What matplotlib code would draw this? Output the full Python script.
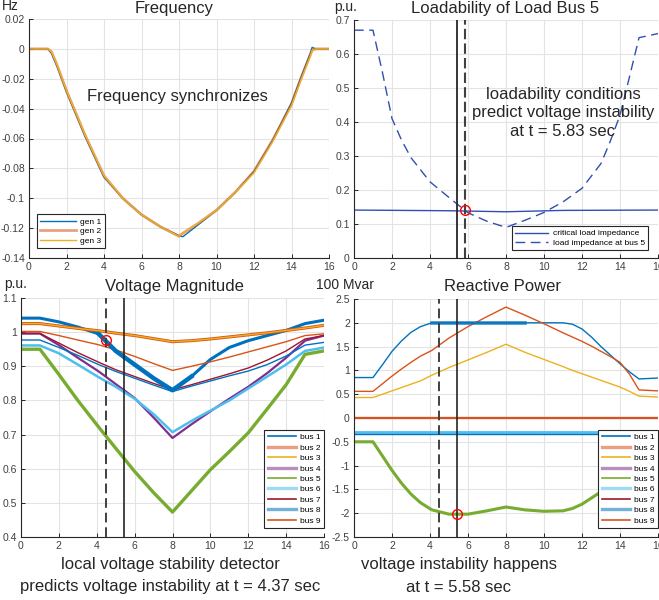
import numpy as np
import matplotlib
matplotlib.use("Agg")
import matplotlib.pyplot as plt
from matplotlib.lines import Line2D
from matplotlib.ticker import FuncFormatter, MultipleLocator

plt.rcParams['font.family'] = ['Liberation Sans', 'DejaVu Sans']
plt.rcParams['axes.unicode_minus'] = False

# ---------------- data ----------------
# Frequency (Hz)
t_freq = [0, 1, 1.2, 1.5, 2, 3, 4, 5, 6, 7, 8, 8.2, 9, 10, 11, 12, 13, 14, 14.5, 15, 15.1, 15.3, 16]
gen1 = [0, 0, -0.003, -0.012, -0.029, -0.059, -0.086, -0.100, -0.111, -0.119, -0.125, -0.1258, -0.118, -0.108,
        -0.096, -0.082, -0.061, -0.036, -0.019, -0.003, 0.001, 0, 0]
gen2 = [0, 0, -0.002, -0.011, -0.028, -0.058, -0.085, -0.100, -0.111, -0.119, -0.1255, -0.1235, -0.117, -0.108,
        -0.096, -0.082, -0.061, -0.037, -0.020, -0.004, -0.001, 0, 0]
gen3 = [0, 0, -0.002, -0.011, -0.028, -0.058, -0.085, -0.100, -0.111, -0.119, -0.1255, -0.1232, -0.117, -0.108,
        -0.096, -0.083, -0.062, -0.038, -0.021, -0.005, -0.001, 0, 0]

# Loadability of load bus 5 (p.u.)
t_load = [0, 1, 1.5, 2, 2.5, 3, 4, 5, 6, 7, 8, 9, 10, 11, 12, 13, 13.5, 14, 14.5, 15, 16]
z_load = [0.67, 0.67, 0.545, 0.41, 0.347, 0.295, 0.224, 0.178, 0.133, 0.108, 0.09, 0.111, 0.134,
          0.165, 0.205, 0.278, 0.345, 0.42, 0.533, 0.648, 0.66]
t_crit = [0, 5, 8, 11, 16]
z_crit = [0.141, 0.139, 0.136, 0.140, 0.141]

# Voltage magnitude (p.u.)
t_v = [0, 1, 2, 3, 4.1, 5, 6, 7, 8, 9, 10, 11, 12, 13, 14, 15, 16]
v_bus1 = [1.041, 1.041, 1.030, 1.015, 0.995, 0.945, 0.905, 0.865, 0.830, 0.870, 0.920, 0.955, 0.975, 0.990, 1.005, 1.025, 1.035]
v_bus2 = [1.025, 1.025, 1.018, 1.011, 1.004, 0.997, 0.990, 0.981, 0.972, 0.975, 0.980, 0.986, 0.992, 0.998, 1.005, 1.012, 1.020]
v_bus3 = [1.025, 1.025, 1.018, 1.011, 1.004, 0.997, 0.990, 0.981, 0.972, 0.975, 0.980, 0.986, 0.992, 0.998, 1.005, 1.012, 1.020]
v_bus4 = [0.996, 0.996, 0.962, 0.925, 0.885, 0.848, 0.807, 0.750, 0.690, 0.730, 0.768, 0.805, 0.840, 0.880, 0.925, 0.975, 0.990]
v_bus5 = [0.950, 0.950, 0.876, 0.800, 0.722, 0.660, 0.592, 0.530, 0.473, 0.535, 0.597, 0.650, 0.705, 0.775, 0.846, 0.935, 0.945]
v_bus6 = [0.961, 0.961, 0.938, 0.905, 0.868, 0.840, 0.805, 0.760, 0.707, 0.740, 0.770, 0.800, 0.835, 0.870, 0.905, 0.945, 0.955]
v_bus7 = [0.996, 0.996, 0.968, 0.940, 0.912, 0.890, 0.870, 0.850, 0.831, 0.846, 0.862, 0.878, 0.895, 0.918, 0.945, 0.980, 0.990]
v_bus8 = [0.977, 0.977, 0.955, 0.932, 0.905, 0.885, 0.865, 0.845, 0.826, 0.842, 0.857, 0.872, 0.886, 0.905, 0.930, 0.962, 0.970]
v_bus9 = [1.002, 1.002, 0.990, 0.977, 0.963, 0.948, 0.929, 0.908, 0.888, 0.900, 0.913, 0.927, 0.942, 0.957, 0.972, 0.990, 0.995]

# Reactive power (100 Mvar)
t_q = [0, 1, 1.5, 2, 2.5, 3, 3.5, 4.1, 5, 6, 7, 8, 9, 10, 11, 11.5, 12, 12.5, 13, 13.5, 14, 14.5, 15, 16]
q_bus1 = [0.85, 0.85, 1.12, 1.40, 1.62, 1.80, 1.92, 2.00, 2.00, 2.00, 2.00, 2.00, 2.00, 2.00, 2.00, 1.97,
          1.87, 1.70, 1.50, 1.32, 1.14, 0.97, 0.82, 0.84]
q_bus2 = [0.56, 0.56, 0.72, 0.88, 1.03, 1.17, 1.30, 1.42, 1.68, 1.92, 2.13, 2.33, 2.16, 1.98, 1.79, 1.70,
          1.61, 1.51, 1.40, 1.29, 1.17, 0.92, 0.59, 0.57]
q_bus3 = [0.43, 0.43, 0.50, 0.57, 0.64, 0.71, 0.78, 0.90, 1.06, 1.22, 1.38, 1.55, 1.38, 1.23, 1.08, 1.00,
          0.93, 0.86, 0.79, 0.72, 0.65, 0.56, 0.46, 0.44]
q_bus4 = [0.0] * 24
q_bus5 = [-0.50, -0.50, -0.80, -1.10, -1.37, -1.60, -1.78, -1.93, -2.02, -2.02, -1.95, -1.87, -1.93, -1.96,
          -1.95, -1.90, -1.81, -1.68, -1.55, -1.35, -1.10, -0.80, -0.50, -0.48]
q_bus6 = [-0.29] * 24
q_bus7 = [0.0] * 24
q_bus8 = [-0.34] * 24
q_bus9 = [0.0] * 24

# event times (s)
t_local = 4.47
t_instab = 5.43
t_loadab = 5.85

# ---------------- style ----------------
C = ['#0072BD', '#D95319', '#EDB120', '#7E2F8E', '#77AC30', '#4DBEEE', '#A2142F', '#0072BD', '#D95319']
W, H = 659, 600
fig = plt.figure(figsize=(W / 100, H / 100), dpi=100)


def ax_px(l, r, t, b):
    return fig.add_axes([l / W, (H - b) / H, (r - l) / W, (b - t) / H])


def fmt(v, pos):
    if abs(v) < 1e-9:
        return '0'
    return f'{v:g}'


def style(ax, ylim, ystep):
    ax.set_xlim(0, 16)
    ax.set_ylim(*ylim)
    ax.xaxis.set_major_locator(MultipleLocator(2))
    ax.yaxis.set_major_locator(MultipleLocator(ystep))
    ax.yaxis.set_major_formatter(FuncFormatter(fmt))
    ax.xaxis.set_major_formatter(FuncFormatter(fmt))
    for s in ['top', 'right']:
        ax.spines[s].set_visible(False)
    for s in ['left', 'bottom']:
        ax.spines[s].set_color('#262626')
        ax.spines[s].set_linewidth(0.8)
    ax.tick_params(direction='in', length=3, width=0.7, color='#262626', labelcolor='#404040',
                   labelsize=7.5, pad=3)
    ax.grid(True, color='#e3e3e3', linewidth=0.8)
    ax.set_axisbelow(True)


def ftext(x, y, s, size=12, ha='center', va='center'):
    fig.text(x / W, 1 - y / H, s, fontsize=size, ha=ha, va=va, color='#262626')


leg_kw = dict(fontsize=6, frameon=True, fancybox=False, framealpha=1, edgecolor='#262626',
              borderaxespad=0, handletextpad=0.5, borderpad=0.4)

# ---------- Frequency ----------
ax1 = ax_px(29, 329, 19, 258)
style(ax1, (-0.14, 0.02), 0.02)
ax1.plot(t_freq, gen1, color=C[0], lw=1.0, label='gen 1')
ax1.plot(t_freq, gen2, color=C[1], lw=2.0, alpha=0.55, label='gen 2')
ax1.plot(t_freq, gen3, color=C[2], lw=1.0, label='gen 3')
lg = ax1.legend(loc='lower left', bbox_to_anchor=(0.027, 0.042), handlelength=4.3, labelspacing=0.2, **leg_kw)
lg.get_frame().set_linewidth(0.8)
ftext(174, 9, 'Frequency')
ftext(10, 6, 'Hz', size=10)
ax1.text(7.9, -0.032, 'Frequency synchronizes', fontsize=12, ha='center', va='center', color='#262626')

# ---------- Loadability ----------
ax2 = ax_px(354, 658, 20, 258)
style(ax2, (0, 0.7), 0.1)
ax2.plot(t_crit, z_crit, color='#3050B0', lw=1.0, label='critical load impedance')
ax2.plot(t_load, z_load, color='#3050B0', lw=1.0, ls=(0, (7, 4)), label='load impedance at bus 5')
ax2.axvline(t_instab, color='#262626', lw=1.3)
ax2.axvline(t_loadab, color='#404040', lw=1.5, ls=(0, (5, 2)))
ax2.plot([t_loadab], [0.14], 'o', ms=7, mfc='none', mec='red', mew=1.0)
lg = ax2.legend(loc='lower right', bbox_to_anchor=(0.967, 0.034), handlelength=4.0, labelspacing=0.15, **leg_kw)
lg.get_frame().set_linewidth(0.8)
ftext(505, 9, 'Loadability of Load Bus 5')
ftext(346, 7, 'p.u.', size=10)
ax2.text(11.0, 0.427, 'loadability conditions\npredict voltage instability\nat t = 5.83 sec', fontsize=12,
         ha='center', va='center', color='#262626', linespacing=1.3)

# ---------- Voltage magnitude ----------
ax3 = ax_px(21, 324, 298, 537)
style(ax3, (0.4, 1.1), 0.1)
vlist = [v_bus1, v_bus2, v_bus3, v_bus4, v_bus5, v_bus6, v_bus7, v_bus8, v_bus9]
vlw = [2.2, 2.2, 1.0, 1.6, 2.4, 1.8, 1.0, 1.0, 1.0]
for i, v in enumerate(vlist):
    ax3.plot(t_v, v, color=C[i], lw=vlw[i], zorder=2 + (0.5 if i == 2 else 0))
# noisy band of bus 1 during instability
tv = np.array(t_v)
seg = (tv >= 4.1) & (tv <= 9)
ax3.plot(tv[seg], np.array(v_bus1)[seg], color=C[0], lw=3.2, zorder=2)
ax3.axvline(t_local, color='#404040', lw=1.4, ls=(0, (5, 2.5)), zorder=3)
ax3.axvline(t_instab, color='#262626', lw=1.2, zorder=3)
ax3.plot([t_local], [0.977], 'o', ms=7, mfc='none', mec='red', mew=1.0, zorder=4)
lw_leg = [1.2, 2.4, 1.2, 2.4, 1.2, 2.4, 1.2, 2.4, 1.2]
al_leg = [1, 0.55, 1, 0.55, 1, 0.55, 1, 0.55, 1]
hs = [Line2D([], [], color=C[i], lw=lw_leg[i], alpha=al_leg[i]) for i in range(9)]
labels = [f'bus {i + 1}' for i in range(9)]
lg = ax3.legend(hs, labels, loc='lower right', bbox_to_anchor=(1.0, 0.038), handlelength=3.4,
                labelspacing=0.31, **leg_kw)
lg.get_frame().set_linewidth(0.8)
ftext(174, 287, 'Voltage Magnitude')
ftext(16, 284, 'p.u.', size=10)
ftext(170, 565, 'local voltage stability detector')
ftext(170, 587, 'predicts voltage instability at t = 4.37 sec')

# ---------- Reactive power ----------
ax4 = ax_px(354, 658, 299, 537)
style(ax4, (-2.5, 2.5), 0.5)
qlist = [q_bus1, q_bus2, q_bus3, q_bus4, q_bus5, q_bus6, q_bus7, q_bus8, q_bus9]
qlw = [1.0, 1.0, 1.0, 1.5, 2.2, 2.0, 1.5, 1.0, 1.5]
for i, q in enumerate(qlist):
    ax4.plot(t_q, q, color=C[i], lw=qlw[i], zorder=2)
tq = np.array(t_q)
seg = (tq >= 4.1) & (tq <= 9)
ax4.plot(tq[seg], np.array(q_bus1)[seg], color=C[0], lw=2.6, alpha=0.8, zorder=2)
ax4.axvline(t_local, color='#404040', lw=1.4, ls=(0, (5, 2.5)), zorder=3)
ax4.axvline(t_instab, color='#262626', lw=1.2, zorder=3)
ax4.plot([t_instab], [-2.02], 'o', ms=7, mfc='none', mec='red', mew=1.0, zorder=4)
lg = ax4.legend(hs, labels, loc='lower right', bbox_to_anchor=(1.0, 0.038), handlelength=3.4,
                labelspacing=0.31, **leg_kw)
lg.get_frame().set_linewidth(0.8)
ftext(503, 287, 'Reactive Power')
ftext(345, 285, '100 Mvar', size=10)
ftext(459, 565, 'voltage instability happens')
ftext(459, 587, 'at t = 5.58 sec')

fig.savefig('out.png', dpi=100)
